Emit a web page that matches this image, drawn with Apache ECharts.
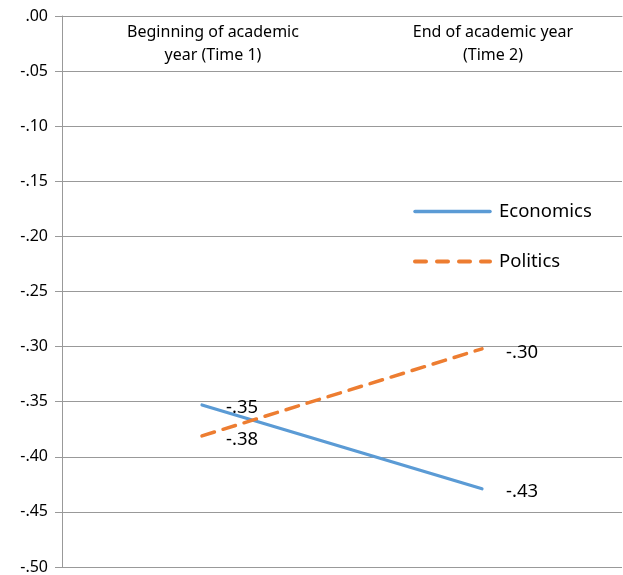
<!DOCTYPE html>
<html>
<head>
<meta charset="utf-8">
<script src="https://cdn.jsdelivr.net/npm/echarts@6/dist/echarts.min.js"></script>
<style>html,body{margin:0;padding:0;background:#fff}#c{width:623px;height:575px}</style>
</head>
<body>
<div id="c"></div>
<script>
var categories = ['Beginning of academic\nyear (Time 1)', 'End of academic year\n(Time 2)'];
var economics = [-0.353, -0.429];
var politics = [-0.381, -0.302];
var yTicks = [0, -0.05, -0.10, -0.15, -0.20, -0.25, -0.30, -0.35, -0.40, -0.45, -0.50];

function fmt(v) {
  var s = Math.abs(v).toFixed(2).replace(/^0/, '');
  return (v < -0.0001 ? '-' : '') + s;
}
var FONT = 'Noto Sans';
var chart = echarts.init(document.getElementById('c'));
chart.setOption({
  animation: false,
  backgroundColor: '#fff',
  grid: { left: 62, right: 1, top: 16, bottom: 6 },
  legend: {
    orient: 'vertical', left: 413, top: 202, padding: 0, itemWidth: 75, itemHeight: 14, itemGap: 31,
    itemStyle: { opacity: 0 },
    textStyle: { fontFamily: FONT, fontSize: 18.5, color: '#000', padding: [0, 0, 0, 4] },
    data: [
      { name: 'Economics', lineStyle: { width: 3.5, color: '#5B9BD5', cap: 'round' } },
      { name: 'Politics', lineStyle: { width: 4, color: '#ED7D31', type: [11, 11], cap: 'round' } }
    ]
  },
  xAxis: {
    type: 'category', position: 'top', data: categories, boundaryGap: true,
    axisLine: { onZero: false, lineStyle: { color: '#999', width: 1 } },
    axisTick: { inside: true, length: 8, lineStyle: { color: '#999' } },
    axisLabel: { inside: true, margin: 5, fontFamily: FONT, fontSize: 16, color: '#000', lineHeight: 23, padding: [0, 0, 0, 22] },
    splitLine: { show: false }
  },
  yAxis: {
    type: 'value', min: -0.5, max: 0, interval: 0.05,
    axisLine: { show: true, lineStyle: { color: '#999', width: 1 } },
    axisTick: { show: true, length: 7, lineStyle: { color: '#999' } },
    axisLabel: { margin: 14, fontFamily: FONT, fontSize: 16, color: '#000', formatter: function (v) { return fmt(v); } },
    splitLine: { show: true, lineStyle: { color: '#999', width: 1 } }
  },
  series: [
    {
      name: 'Economics', type: 'line', data: economics, symbol: 'circle', symbolSize: 0.01,
      lineStyle: { color: '#5B9BD5', width: 3.2, cap: 'round' },
      itemStyle: { color: '#5B9BD5' },
      label: { show: true, position: 'right', distance: 24, offset: [0, 3], fontFamily: FONT, fontSize: 18.5, color: '#000',
        formatter: function (p) { return fmt(Math.round(p.value * 100) / 100); } }
    },
    {
      name: 'Politics', type: 'line', data: politics, symbol: 'circle', symbolSize: 0.01,
      lineStyle: { color: '#ED7D31', width: 3.5, type: [13, 9], cap: 'round' },
      itemStyle: { color: '#ED7D31' },
      label: { show: true, position: 'right', distance: 24, offset: [0, 4], fontFamily: FONT, fontSize: 18.5, color: '#000',
        formatter: function (p) { return fmt(Math.round(p.value * 100) / 100); } }
    }
  ]
});
</script>
</body>
</html>
